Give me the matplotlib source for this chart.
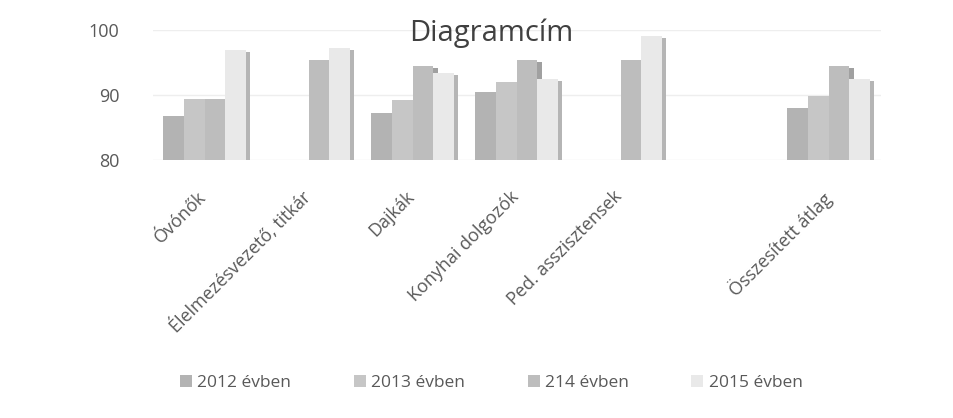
import numpy as np
import matplotlib
matplotlib.use("Agg")
import matplotlib.pyplot as plt
from matplotlib.patches import Patch

plt.rcParams['font.family'] = ['Open Sans', 'DejaVu Sans']

categories = ["Óvónők", "Élelmezésvezető, titkár", "Dajkák", "Konyhai dolgozók",
              "Ped. asszisztensek", "", "Összesített átlag"]
series_names = ["2012 évben", "2013 évben", "214 évben", "2015 évben"]
v2012 = [86.7, np.nan, 87.3, 90.4, np.nan, np.nan, 88.0]
v2013 = [89.4, np.nan, 89.3, 92.0, np.nan, np.nan, 89.8]
v2014 = [89.4, 95.4, 94.5, 95.4, 95.4, np.nan, 94.5]
v2015 = [96.9, 97.2, 93.4, 92.4, 99.0, np.nan, 92.4]
yticks = [80, 90, 100]

values = [v2012, v2013, v2014, v2015]
colors = ["#b3b3b3", "#c6c6c6", "#bdbdbd", "#e9e9e9"]
sides = ["#9a9a9a", "#a8a8a8", "#a0a0a0", "#b5b5b5"]
text_col = "#595959"

fig = plt.figure(figsize=(9.54, 4.18), dpi=100)
ax = fig.add_axes([0.160, 1 - 160 / 418, 0.763, 130 / 418])

x = np.arange(len(categories))
w = 0.2
base = 79.7
for j, vals in enumerate(values):
    v = np.array(vals, dtype=float)
    pos = x + (j - 1.5) * w
    ax.bar(pos + w / 2 + 0.02, v - base - 0.3, width=0.04, bottom=base,
           color=sides[j], edgecolor='none', zorder=2 + 2 * j)
    ax.bar(pos, v - base, width=w, bottom=base, color=colors[j],
           edgecolor='none', zorder=3 + 2 * j)

ax.set_ylim(80, 100)
ax.set_xlim(-0.5, len(categories) - 0.5)
ax.set_yticks(yticks)
ax.set_yticklabels([str(t) for t in yticks], fontsize=13, color=text_col)
ax.set_xticks(x - 0.07)
ax.set_xticklabels(categories, rotation=45, ha='right', rotation_mode='anchor',
                   fontsize=13, color=text_col)
ax.tick_params(axis='both', length=0)
ax.tick_params(axis='y', pad=24)
ax.tick_params(axis='x', pad=20)
for s in ax.spines.values():
    s.set_visible(False)
ax.grid(axis='y', color='#eeeeee', linewidth=1, zorder=0)
ax.set_axisbelow(True)

fig.text(0.515, 1 - 33 / 418, "Diagramcím", ha='center', va='center',
         fontsize=21, color='#404040', zorder=20)

handles = [Patch(facecolor=c, edgecolor='none') for c in colors]
fig.legend(handles, series_names, loc='center', bbox_to_anchor=(0.515, 1 - 383 / 418),
           ncol=4, frameon=False, fontsize=12.5, labelcolor=text_col,
           handlelength=0.7, handleheight=0.7, handletextpad=0.3, columnspacing=3.6)

fig.savefig("out.png", dpi=100)
